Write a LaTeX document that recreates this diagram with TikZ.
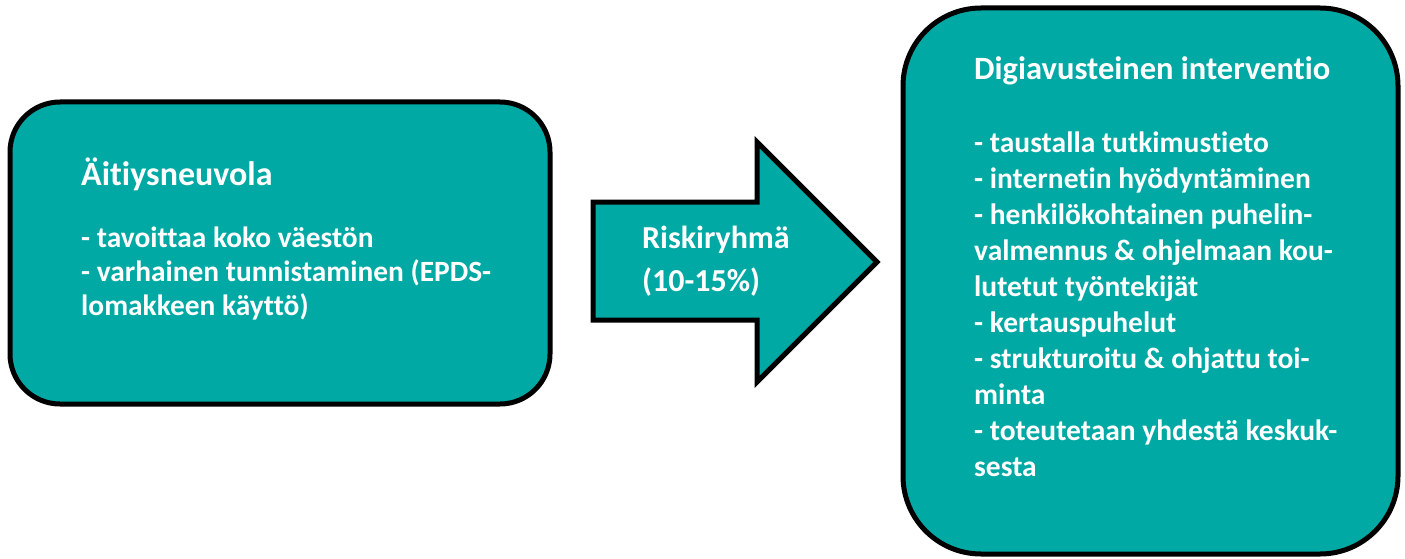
\documentclass[tikz,border=0pt]{standalone}
\usepackage{fontspec}
\setmainfont{Carlito}[Ligatures={NoCommon,NoRare,NoContextual}]
\definecolor{teal1}{RGB}{0,169,164}
\begin{document}
\begin{tikzpicture}[x=1pt,y=-1pt,
  box/.style={draw=black, line width=5pt, fill=teal1, inner sep=0pt},
  txt/.style={text=white, anchor=base west, inner sep=0pt},
  ttlL/.style={txt, font=\fontsize{34}{40}\selectfont\bfseries},
  bodL/.style={txt, font=\fontsize{29.4}{36}\selectfont\bfseries},
  ttlR/.style={txt, font=\fontsize{32.5}{40}\selectfont\bfseries},
  bodR/.style={txt, font=\fontsize{29.5}{36}\selectfont\bfseries},
  bodA/.style={txt, font=\fontsize{32}{40}\selectfont\bfseries}]
\useasboundingbox (0,0) rectangle (1405,559);
% left box
\node[box, rounded corners=50pt, minimum width=540pt, minimum height=302pt] (left) at (280,253) {};
% right box
\node[box, rounded corners=78pt, minimum width=495pt, minimum height=546pt] (right) at (1150.5,281) {};
% block arrow
\draw[line width=5pt, fill=teal1, line join=miter]
  (593,202) -- (757,202) -- (757,142) -- (877,262) -- (757,382) -- (757,320) -- (593,320) -- cycle;
% left texts
\node[ttlL] (lt) at (81,185) {Äitiysneuvola};
\foreach \l [count=\i] in {- tavoittaa koko väestön, - varhainen tunnistaminen (EPDS-, lomakkeen käyttö)}
  \node[bodL] (lb\i) at (81,{247+34*(\i-1)}) {\l};
% arrow texts
\node[bodA] (a1) at (642,248) {Riskiryhmä};
\node[bodA] (a2) at (642,291) {(10-15\%)};
% right texts
\node[ttlR] (rt) at (974,80) {Digiavusteinen interventio};
\foreach \l [count=\i] in {- taustalla tutkimustieto, - internetin hyödyntäminen, - henkilökohtainen puhelin-, valmennus \& ohjelmaan kou-, lutetut työntekijät, - kertauspuhelut, - strukturoitu \& ohjattu toi-, minta, - toteutetaan yhdestä keskuk-, sesta}
  \node[bodR] (rb\i) at (974,{153+35.9*(\i-1)}) {\l};
\end{tikzpicture}
\end{document}
